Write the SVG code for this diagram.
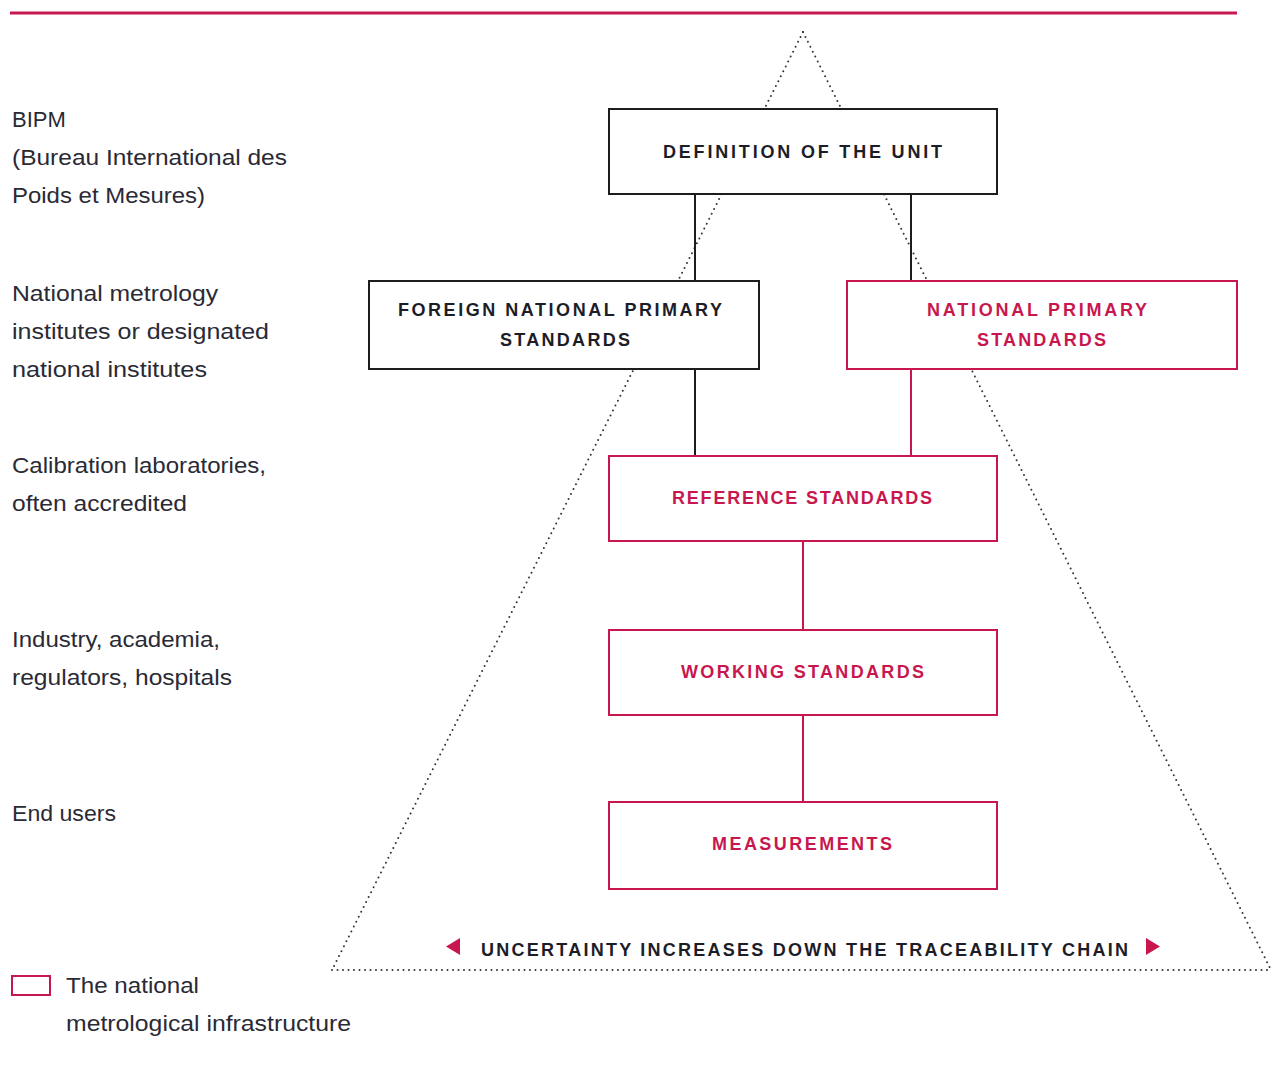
<svg xmlns="http://www.w3.org/2000/svg" width="1273" height="1079" viewBox="0 0 1273 1079">
<style>
.lbl{font-family:"Liberation Sans",Arial,sans-serif;font-size:22px;fill:#2a2a35}
.bt{font-family:"Liberation Sans",Arial,sans-serif;font-size:18px;font-weight:bold;fill:#1d1d28}
.bt.r{fill:#c8174f}
.bx{fill:#fff;stroke:#1d1d1b;stroke-width:2}
.bx.r{stroke:#c8174f}
.c{stroke:#1d1d1b;stroke-width:2;fill:none}
.c.r{stroke:#c8174f}
.dot{stroke:#333;stroke-width:2;stroke-linecap:round;stroke-dasharray:0 5.5;fill:none}
</style>
<rect width="1273" height="1079" fill="#fff"/>
<line x1="10" y1="13" x2="1237" y2="13" stroke="#c8174f" stroke-width="3"/>
<g id="triangle">
<path class="dot" d="M803 32 L332 970"/>
<path class="dot" d="M803 32 L1271 970"/>
<path class="dot" d="M332 970 L1271 970"/>
</g>
<g id="connectors">
<line class="c" x1="695" y1="194" x2="695" y2="281"/>
<line class="c" x1="695" y1="369" x2="695" y2="456"/>
<line class="c" x1="911" y1="194" x2="911" y2="281"/>
<line class="c r" x1="911" y1="369" x2="911" y2="456"/>
<line class="c r" x1="803" y1="541" x2="803" y2="630"/>
<line class="c r" x1="803" y1="715" x2="803" y2="802"/>
</g>
<g id="definition">
<rect class="bx" x="609" y="109" width="388" height="85"/>
<text class="bt" x="663" y="158" textLength="279" lengthAdjust="spacing">DEFINITION OF THE UNIT</text>
</g>
<g id="foreign">
<rect class="bx" x="369" y="281" width="390" height="88"/>
<text class="bt" x="398" y="316" textLength="324" lengthAdjust="spacing">FOREIGN NATIONAL PRIMARY</text>
<text class="bt" x="500" y="346" textLength="130" lengthAdjust="spacing">STANDARDS</text>
</g>
<g id="national">
<rect class="bx r" x="847" y="281" width="390" height="88"/>
<text class="bt r" x="927" y="316" textLength="220" lengthAdjust="spacing">NATIONAL PRIMARY</text>
<text class="bt r" x="977" y="346" textLength="129" lengthAdjust="spacing">STANDARDS</text>
</g>
<g id="reference">
<rect class="bx r" x="609" y="456" width="388" height="85"/>
<text class="bt r" x="672" y="504" textLength="260" lengthAdjust="spacing">REFERENCE STANDARDS</text>
</g>
<g id="working">
<rect class="bx r" x="609" y="630" width="388" height="85"/>
<text class="bt r" x="681" y="678" textLength="243" lengthAdjust="spacing">WORKING STANDARDS</text>
</g>
<g id="measurements">
<rect class="bx r" x="609" y="802" width="388" height="87"/>
<text class="bt r" x="712" y="850" textLength="180" lengthAdjust="spacing">MEASUREMENTS</text>
</g>
<g id="uncertainty">
<polygon points="460,938 460,955 446,946.5" fill="#c8174f"/>
<text class="bt" x="481" y="956" textLength="647" lengthAdjust="spacing">UNCERTAINTY INCREASES DOWN THE TRACEABILITY CHAIN</text>
<polygon points="1146,938 1146,955 1160,946.5" fill="#c8174f"/>
</g>
<g id="labels">
<text class="lbl" x="12" y="127">BIPM</text>
<text class="lbl" x="12" y="165" textLength="275" lengthAdjust="spacingAndGlyphs">(Bureau International des</text>
<text class="lbl" x="12" y="203" textLength="193" lengthAdjust="spacingAndGlyphs">Poids et Mesures)</text>
<text class="lbl" x="12" y="301" textLength="206" lengthAdjust="spacingAndGlyphs">National metrology</text>
<text class="lbl" x="12" y="339" textLength="257" lengthAdjust="spacingAndGlyphs">institutes or designated</text>
<text class="lbl" x="12" y="377" textLength="195" lengthAdjust="spacingAndGlyphs">national institutes</text>
<text class="lbl" x="12" y="473" textLength="254" lengthAdjust="spacingAndGlyphs">Calibration laboratories,</text>
<text class="lbl" x="12" y="511" textLength="175" lengthAdjust="spacingAndGlyphs">often accredited</text>
<text class="lbl" x="12" y="647" textLength="208" lengthAdjust="spacingAndGlyphs">Industry, academia,</text>
<text class="lbl" x="12" y="685" textLength="220" lengthAdjust="spacingAndGlyphs">regulators, hospitals</text>
<text class="lbl" x="12" y="821" textLength="104" lengthAdjust="spacingAndGlyphs">End users</text>
</g>
<g id="legend">
<rect x="12" y="976" width="38" height="19" fill="none" stroke="#c8174f" stroke-width="2"/>
<text class="lbl" x="66" y="993" textLength="133" lengthAdjust="spacingAndGlyphs">The national</text>
<text class="lbl" x="66" y="1031" textLength="285" lengthAdjust="spacingAndGlyphs">metrological infrastructure</text>
</g>
</svg>
